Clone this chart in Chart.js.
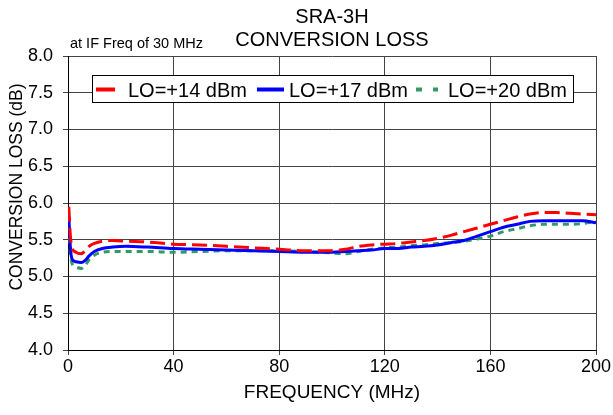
<!DOCTYPE html>
<html>
<head>
<meta charset="utf-8">
<script src="https://cdn.jsdelivr.net/npm/chart.js@4.4.0/dist/chart.umd.min.js"></script>
<style>
  body { margin: 0; background: #fff; }
</style>
</head>
<body>
<canvas id="lossChart" width="613" height="415"></canvas>
<script>
// frequency points (MHz) shared by the three curves
const freqs = [0.3, 0.9, 1.5, 3, 5, 6.5, 8, 10, 13, 17, 22, 30, 40, 50, 60, 70, 80, 90, 100, 105,
               110, 115, 120, 125, 130, 135, 140, 145, 150, 155, 160, 165, 170, 175, 180, 185, 190, 195, 200];

const lo14 = [5.95, 5.55, 5.40, 5.33, 5.31, 5.35, 5.41, 5.45, 5.48, 5.49, 5.48, 5.47, 5.44, 5.43, 5.41, 5.39, 5.37, 5.35, 5.35, 5.37,
              5.41, 5.43, 5.44, 5.45, 5.47, 5.49, 5.52, 5.56, 5.61, 5.66, 5.71, 5.76, 5.81, 5.85, 5.87, 5.87, 5.86, 5.85, 5.84];
const lo17 = [5.82, 5.40, 5.24, 5.20, 5.19, 5.22, 5.28, 5.34, 5.38, 5.40, 5.41, 5.40, 5.38, 5.37, 5.36, 5.35, 5.34, 5.33, 5.33, 5.34,
              5.35, 5.36, 5.38, 5.38, 5.40, 5.41, 5.43, 5.46, 5.49, 5.55, 5.61, 5.67, 5.71, 5.75, 5.76, 5.76, 5.76, 5.76, 5.73];
const lo20 = [5.68, 5.32, 5.18, 5.13, 5.11, 5.15, 5.23, 5.29, 5.33, 5.34, 5.34, 5.34, 5.33, 5.34, 5.35, 5.35, 5.35, 5.34, 5.32, 5.31,
              5.34, 5.37, 5.39, 5.40, 5.42, 5.43, 5.45, 5.46, 5.48, 5.51, 5.55, 5.61, 5.65, 5.69, 5.71, 5.71, 5.71, 5.72, 5.75];

const seriesLabels = ['LO=+14 dBm', 'LO=+17 dBm', 'LO=+20 dBm'];
const xTicks = [0, 40, 80, 120, 160, 200];
const yTickLabels = ['4.0', '4.5', '5.0', '5.5', '6.0', '6.5', '7.0', '7.5', '8.0'];

const FONT = "'Liberation Sans', Arial, sans-serif";

function toPoints(values) {
    return freqs.map((f, i) => ({ x: f, y: values[i] }));
}

// title, legend box inside the plot, note text and rotated y title
const extras = {
    id: 'extras',
    afterDatasetsDraw(chart) {
        const ctx = chart.ctx;
        const area = chart.chartArea;
        ctx.save();

        // title, centred over the plot area
        ctx.fillStyle = '#000';
        ctx.font = '20px ' + FONT;
        ctx.textAlign = 'center';
        ctx.textBaseline = 'alphabetic';
        const cx = (area.left + area.right) / 2;
        ctx.fillText('SRA-3H', cx, 22.5);
        ctx.fillText('CONVERSION LOSS', cx, 46);
        ctx.textAlign = 'left';

        // legend box
        ctx.fillStyle = '#fff';
        ctx.fillRect(92, 75, 482, 28);
        ctx.strokeStyle = '#000';
        ctx.lineWidth = 1;
        ctx.strokeRect(92.5, 75.5, 481, 27);

        const items = [
            { x: 96, w: 19, dash: [], text: 128 },
            { x: 257, w: 27, dash: [], text: 289 },
            { x: 416, w: 22, dash: [6, 11], text: 448 },
        ];
        ctx.font = '20px ' + FONT;
        items.forEach((it, i) => {
            const ds = chart.data.datasets[i];
            ctx.strokeStyle = ds.borderColor;
            ctx.lineWidth = 4;
            ctx.setLineDash(it.dash);
            ctx.beginPath();
            ctx.moveTo(it.x, 89.5);
            ctx.lineTo(it.x + it.w, 89.5);
            ctx.stroke();
            ctx.setLineDash([]);
            ctx.fillStyle = '#000';
            ctx.fillText(ds.label, it.text, 97);
        });

        // note at top left
        ctx.font = '14.5px ' + FONT;
        ctx.fillText('at IF Freq of 30 MHz', 70, 48);

        // y axis title
        ctx.font = '17.5px ' + FONT;
        ctx.translate(17, 187);
        ctx.rotate(-Math.PI / 2);
        ctx.textAlign = 'center';
        ctx.textBaseline = 'middle';
        ctx.fillText('CONVERSION LOSS (dB)', 0, 0);
        ctx.restore();
    }
};

const ctx = document.getElementById('lossChart').getContext('2d');
const lossChart = new Chart(ctx, {
    type: 'line',
    data: {
        datasets: [
            {
                label: seriesLabels[0],
                data: toPoints(lo14),
                borderColor: '#ff0000',
                borderWidth: 3,
                borderDash: [15, 6],
            },
            {
                label: seriesLabels[1],
                data: toPoints(lo17),
                borderColor: '#0000ff',
                borderWidth: 3,
            },
            {
                label: seriesLabels[2],
                data: toPoints(lo20),
                borderColor: '#339966',
                borderWidth: 3,
                borderDash: [6, 5],
            },
        ],
    },
    options: {
        responsive: false,
        animation: false,
        layout: { padding: { left: 0, right: 17, top: 56, bottom: 0 } },
        elements: {
            point: { radius: 0 },
            line: { cubicInterpolationMode: 'monotone' },
        },
        plugins: {
            legend: { display: false },
            tooltip: { enabled: false },
        },
        scales: {
            x: {
                type: 'linear',
                min: 0,
                max: 200,
                afterBuildTicks: (scale) => { scale.ticks = xTicks.map(v => ({ value: v })); },
                afterFit: (scale) => { scale.height = 65; },
                ticks: {
                    color: '#000',
                    font: { family: FONT, size: 18 },
                    padding: 1,
                    maxRotation: 0,
                },
                grid: { color: '#444', lineWidth: 1, tickLength: 5 },
                border: { color: '#000', width: 1 },
                title: {
                    display: true,
                    text: 'FREQUENCY (MHz)',
                    color: '#000',
                    font: { family: FONT, size: 19 },
                    padding: { top: 0, bottom: 11 },
                },
            },
            y: {
                min: 4,
                max: 8,
                afterBuildTicks: (scale) => { scale.ticks = yTickLabels.map(t => ({ value: parseFloat(t) })); },
                afterFit: (scale) => { scale.width = 68; },
                ticks: {
                    color: '#000',
                    font: { family: FONT, size: 18 },
                    padding: 10,
                    callback: (v) => yTickLabels.find(t => parseFloat(t) === v),
                },
                grid: { color: '#444', lineWidth: 1, tickLength: 5 },
                border: { color: '#000', width: 1 },
            },
        },
    },
    plugins: [extras],
});
</script>
</body>
</html>
